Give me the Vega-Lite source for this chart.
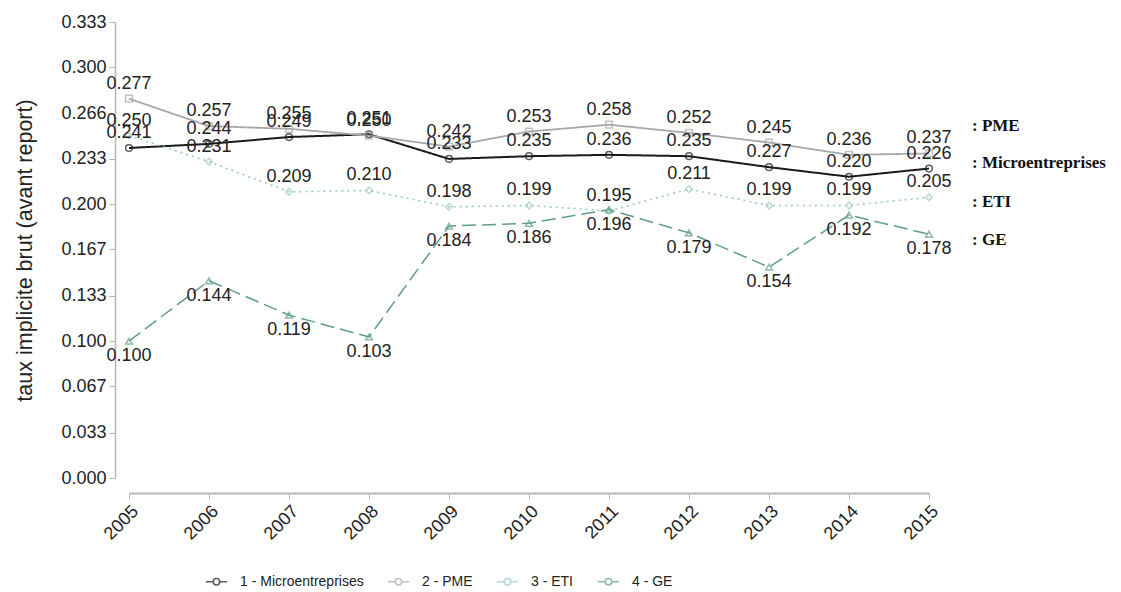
{
  "$schema": "https://vega.github.io/schema/vega-lite/v6.json",
  "width": 800,
  "height": 456,
  "autosize": {"type": "none"},
  "padding": {"left": 129, "top": 22, "right": 192, "bottom": 114},
  "background": "white",
  "view": {"stroke": null},
  "datasets": {
    "rates": [
      {"year": 2005, "series": "1 - Microentreprises", "value": 0.241},
      {"year": 2006, "series": "1 - Microentreprises", "value": 0.244},
      {"year": 2007, "series": "1 - Microentreprises", "value": 0.249},
      {"year": 2008, "series": "1 - Microentreprises", "value": 0.251},
      {"year": 2009, "series": "1 - Microentreprises", "value": 0.233},
      {"year": 2010, "series": "1 - Microentreprises", "value": 0.235},
      {"year": 2011, "series": "1 - Microentreprises", "value": 0.236},
      {"year": 2012, "series": "1 - Microentreprises", "value": 0.235},
      {"year": 2013, "series": "1 - Microentreprises", "value": 0.227},
      {"year": 2014, "series": "1 - Microentreprises", "value": 0.220},
      {"year": 2015, "series": "1 - Microentreprises", "value": 0.226},
      {"year": 2005, "series": "2 - PME", "value": 0.277},
      {"year": 2006, "series": "2 - PME", "value": 0.257},
      {"year": 2007, "series": "2 - PME", "value": 0.255},
      {"year": 2008, "series": "2 - PME", "value": 0.250},
      {"year": 2009, "series": "2 - PME", "value": 0.242},
      {"year": 2010, "series": "2 - PME", "value": 0.253},
      {"year": 2011, "series": "2 - PME", "value": 0.258},
      {"year": 2012, "series": "2 - PME", "value": 0.252},
      {"year": 2013, "series": "2 - PME", "value": 0.245},
      {"year": 2014, "series": "2 - PME", "value": 0.236},
      {"year": 2015, "series": "2 - PME", "value": 0.237},
      {"year": 2005, "series": "3 - ETI", "value": 0.250},
      {"year": 2006, "series": "3 - ETI", "value": 0.231},
      {"year": 2007, "series": "3 - ETI", "value": 0.209},
      {"year": 2008, "series": "3 - ETI", "value": 0.210},
      {"year": 2009, "series": "3 - ETI", "value": 0.198},
      {"year": 2010, "series": "3 - ETI", "value": 0.199},
      {"year": 2011, "series": "3 - ETI", "value": 0.195},
      {"year": 2012, "series": "3 - ETI", "value": 0.211},
      {"year": 2013, "series": "3 - ETI", "value": 0.199},
      {"year": 2014, "series": "3 - ETI", "value": 0.199},
      {"year": 2015, "series": "3 - ETI", "value": 0.205},
      {"year": 2005, "series": "4 - GE", "value": 0.100},
      {"year": 2006, "series": "4 - GE", "value": 0.144},
      {"year": 2007, "series": "4 - GE", "value": 0.119},
      {"year": 2008, "series": "4 - GE", "value": 0.103},
      {"year": 2009, "series": "4 - GE", "value": 0.184},
      {"year": 2010, "series": "4 - GE", "value": 0.186},
      {"year": 2011, "series": "4 - GE", "value": 0.196},
      {"year": 2012, "series": "4 - GE", "value": 0.179},
      {"year": 2013, "series": "4 - GE", "value": 0.154},
      {"year": 2014, "series": "4 - GE", "value": 0.192},
      {"year": 2015, "series": "4 - GE", "value": 0.178}
    ],
    "notes": [
      {"year": 2015, "value": 0.257, "label": ": PME"},
      {"year": 2015, "value": 0.230, "label": ": Microentreprises"},
      {"year": 2015, "value": 0.2016, "label": ": ETI"},
      {"year": 2015, "value": 0.174, "label": ": GE"}
    ]
  },
  "data": {"name": "rates"},
  "encoding": {
    "x": {
      "field": "year", "type": "quantitative",
      "scale": {"domain": [2005, 2015], "nice": false, "zero": false},
      "axis": {
        "title": null, "values": [2005,2006,2007,2008,2009,2010,2011,2012,2013,2014,2015],
        "format": "d", "labelAngle": -45, "labelFontSize": 18, "labelFont": "Liberation Sans",
        "labelColor": "#222", "offset": 15, "grid": false, "domainColor": "#b5b5b5",
        "domainWidth": 2, "tickColor": "#b5b5b5", "tickSize": 6, "labelPadding": 3
      }
    },
    "y": {
      "field": "value", "type": "quantitative",
      "scale": {"domain": [0, 0.333], "nice": false},
      "axis": {
        "title": "taux implicite brut (avant report)",
        "values": [0, 0.033, 0.067, 0.1, 0.133, 0.167, 0.2, 0.233, 0.266, 0.3, 0.333],
        "format": ".3f", "labelFontSize": 18, "labelFont": "Liberation Sans", "labelColor": "#222",
        "titleFont": "Liberation Sans", "titleFontSize": 21.5, "titleFontWeight": "normal",
        "titleColor": "#222", "titlePadding": 24, "offset": 14, "grid": false,
        "domainColor": "#b5b5b5", "domainWidth": 1.5, "tickColor": "#b5b5b5", "tickSize": 6,
        "labelPadding": 3
      }
    }
  },
  "layer": [
    {
      "mark": {"type": "line"},
      "encoding": {
        "color": {
          "field": "series", "type": "nominal",
          "scale": {"range": ["#1a1a1a", "#a8a8a8", "#9cc9c6", "#5f9d8a"]},
          "legend": {
            "orient": "none", "direction": "horizontal", "legendX": 76, "legendY": 548,
            "title": null, "labelFontSize": 14, "labelFont": "Liberation Sans",
            "labelColor": "#222", "columns": 4, "columnPadding": 20, "symbolSize": 450,
            "symbolStrokeWidth": 1.6, "labelOffset": 12,
            "symbolType": "M-1,0H-0.3M0.3,0H1M-0.3,0A0.3,0.3,0,1,1,0.3,0A0.3,0.3,0,1,1,-0.3,0"
          }
        },
        "strokeDash": {
          "field": "series", "type": "nominal",
          "scale": {"range": [[1, 0], [1, 0], [2, 4], [14, 6]]},
          "legend": null
        },
        "strokeWidth": {
          "field": "series", "type": "nominal",
          "scale": {"range": [2, 1.5, 1.6, 1.6]},
          "legend": null
        }
      }
    },
    {
      "mark": {"type": "point", "filled": false, "size": 45, "strokeWidth": 1.5},
      "encoding": {
        "color": {"field": "series", "type": "nominal"},
        "shape": {
          "field": "series", "type": "nominal",
          "scale": {"range": ["circle", "square", "diamond", "triangle-up"]},
          "legend": null
        }
      }
    },
    {
      "transform": [{"filter": "datum.series !== '4 - GE'"}],
      "mark": {"type": "text", "dy": -15, "fontSize": 18, "font": "Liberation Sans", "color": "#222"},
      "encoding": {"text": {"field": "value", "type": "quantitative", "format": ".3f"}}
    },
    {
      "transform": [{"filter": "datum.series === '4 - GE'"}],
      "mark": {"type": "text", "dy": 15, "fontSize": 18, "font": "Liberation Sans", "color": "#222"},
      "encoding": {"text": {"field": "value", "type": "quantitative", "format": ".3f"}}
    },
    {
      "data": {"name": "notes"},
      "mark": {"type": "text", "align": "left", "dx": 43, "fontSize": 17, "font": "Liberation Serif", "fontWeight": "bold", "color": "#111"},
      "encoding": {"text": {"field": "label", "type": "nominal"}}
    }
  ]
}
